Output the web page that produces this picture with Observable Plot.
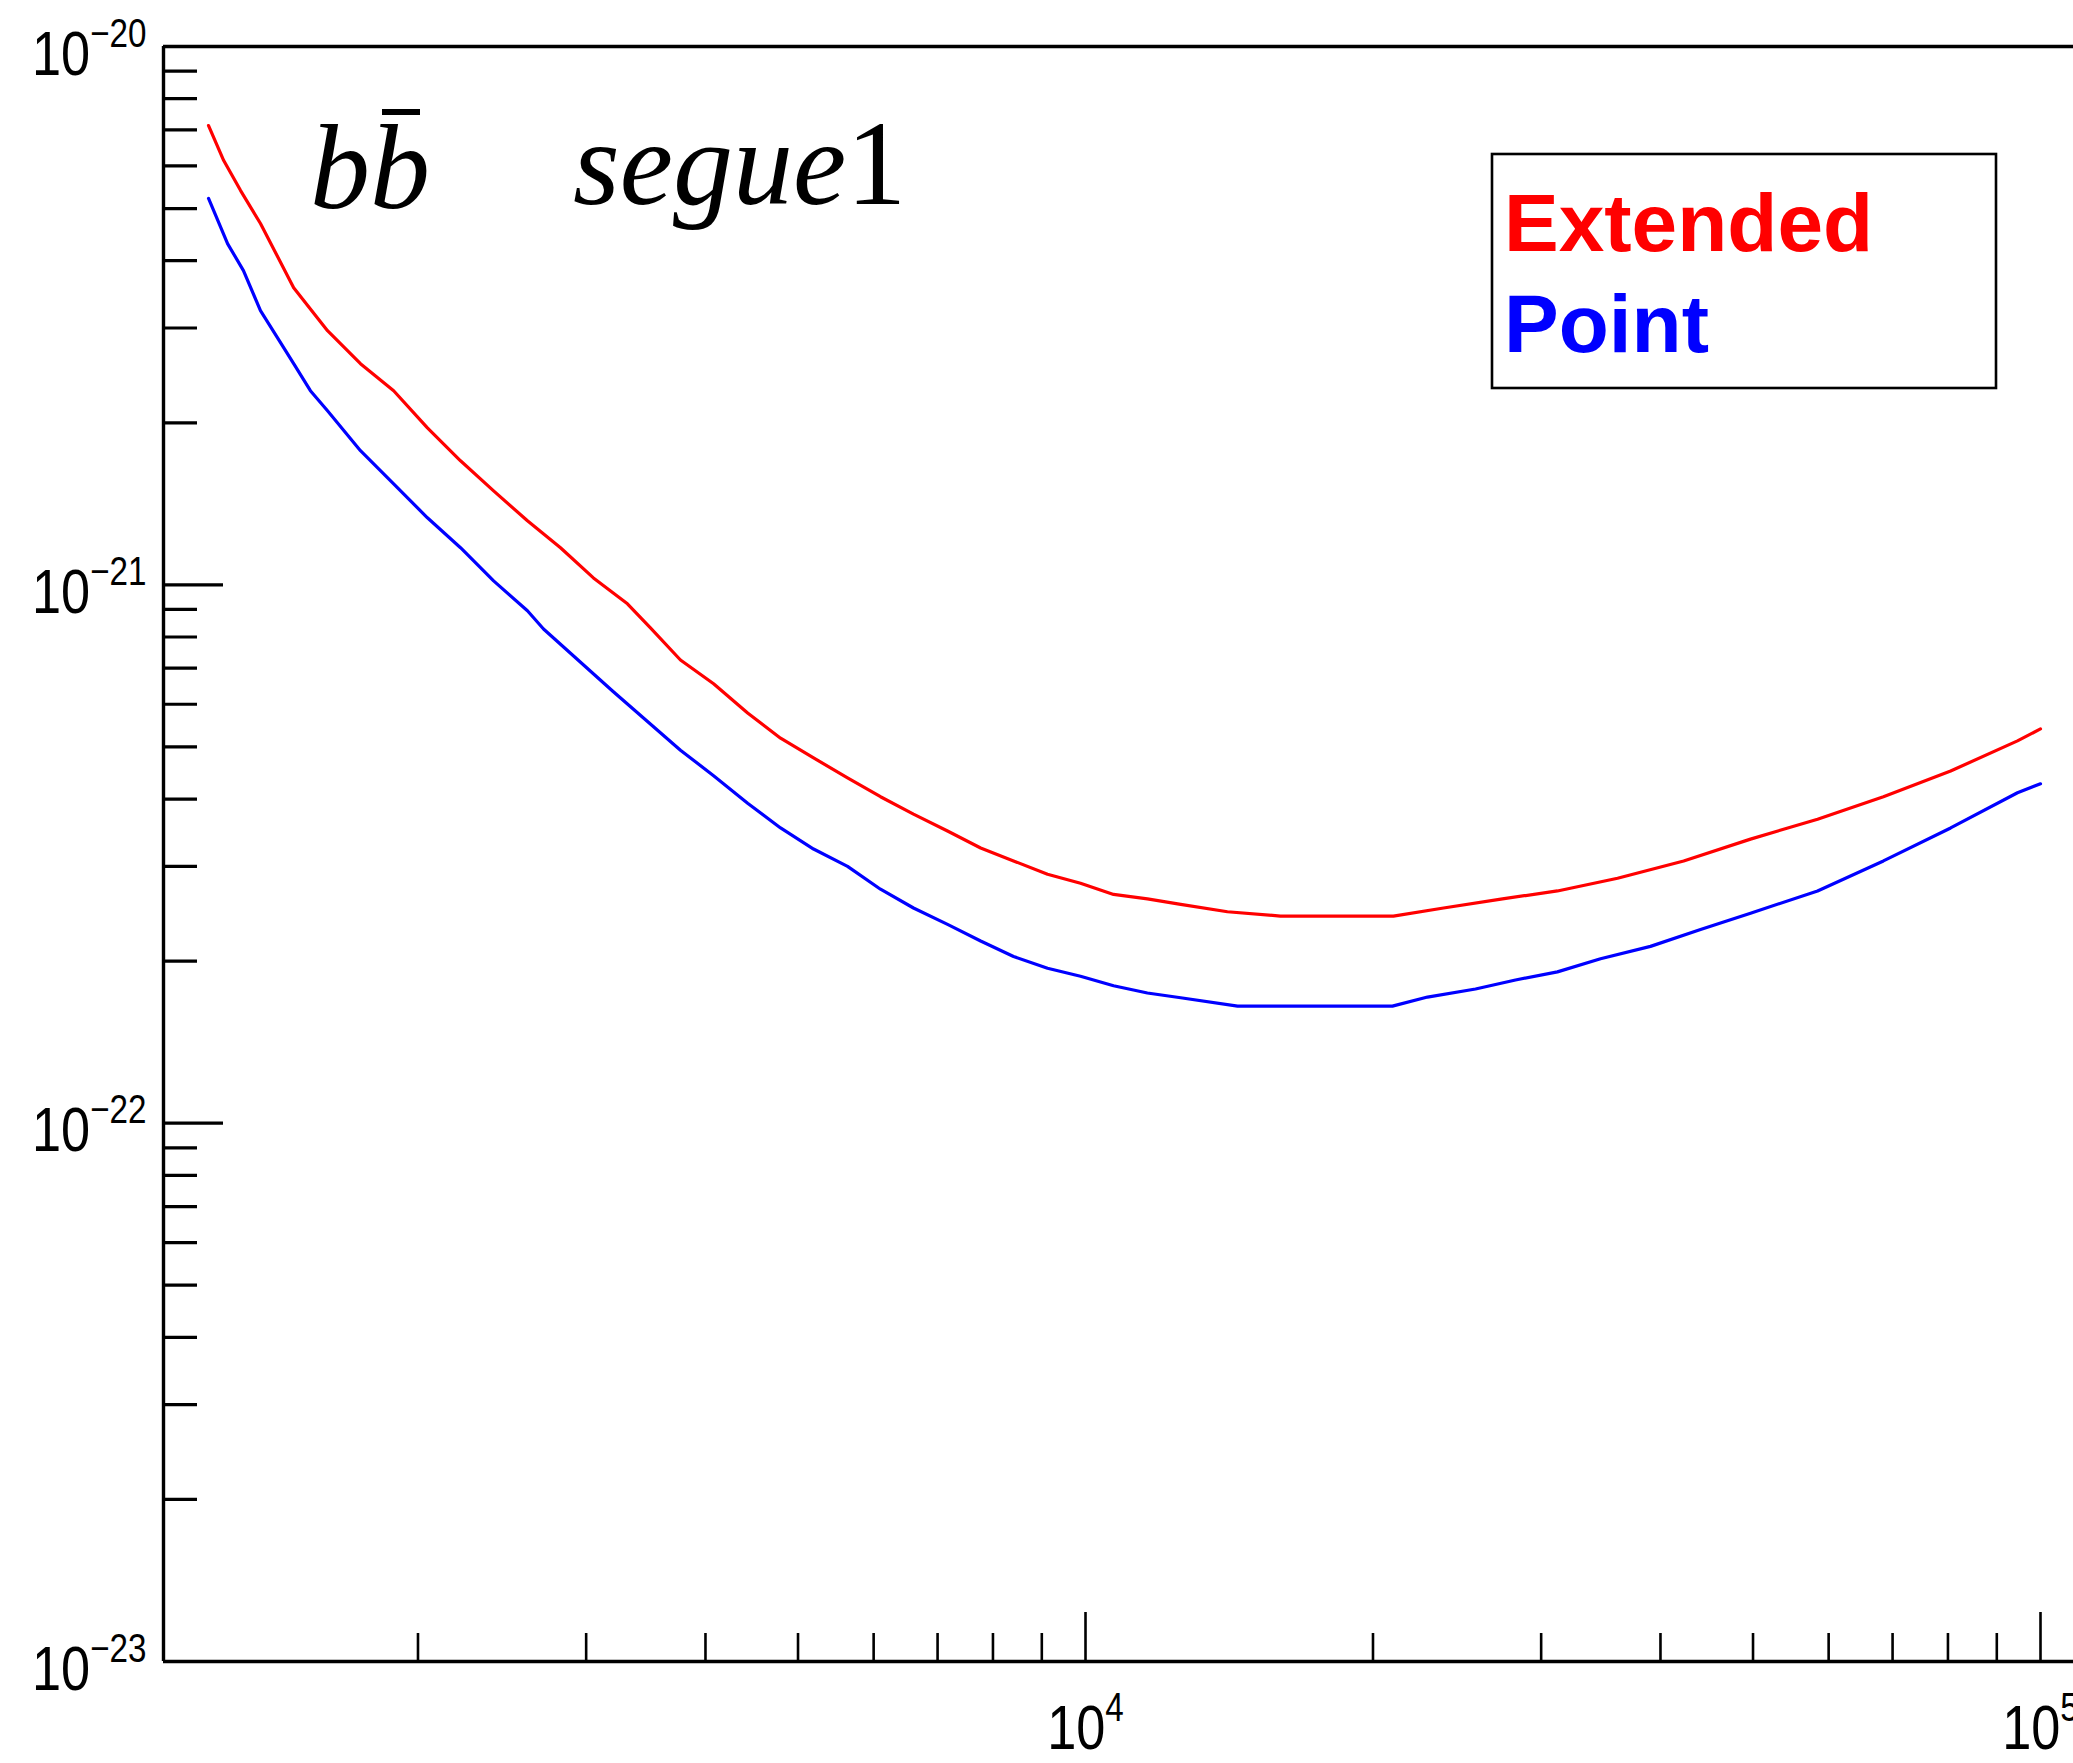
<!DOCTYPE html>
<html>
<head>
<meta charset="utf-8">
<script src="https://cdn.jsdelivr.net/npm/d3@7"></script>
<script src="https://cdn.jsdelivr.net/npm/@observablehq/plot@0.6"></script>
<style>
  html, body { margin: 0; padding: 0; background: #fff; overflow: hidden; }
  #chart svg { display: block; }
</style>
</head>
<body>
<div id="chart"></div>
<script>
// ---- data ----
const extendedE = [1207, 1252, 1304, 1368, 1482, 1608, 1741, 1886, 2046, 2216, 2400, 2604, 2820, 3053, 3314, 3503,
  3766, 4079, 4428, 4794, 5191, 5634, 6100, 6605, 7170, 7766, 8407, 9125, 9880, 10700, 11610, 12580,
  14080, 16000, 21010, 23710, 27330, 31200, 36070, 42300, 49700, 58420, 68470, 80520, 94600, 100000];
const extendedV = [7.13e-21, 6.14e-21, 5.40e-21, 4.69e-21, 3.565e-21, 2.966e-21, 2.575e-21, 2.294e-21,
  1.957e-21, 1.700e-21, 1.495e-21, 1.315e-21, 1.172e-21, 1.030e-21, 9.22e-22, 8.32e-22,
  7.25e-22, 6.55e-22, 5.78e-22, 5.19e-22, 4.77e-22, 4.38e-22, 4.04e-22, 3.75e-22,
  3.49e-22, 3.245e-22, 3.07e-22, 2.90e-22, 2.79e-22, 2.66e-22, 2.61e-22, 2.55e-22,
  2.47e-22, 2.425e-22, 2.425e-22, 2.51e-22, 2.61e-22, 2.70e-22, 2.85e-22, 3.07e-22,
  3.37e-22, 3.67e-22, 4.04e-22, 4.51e-22, 5.13e-22, 5.40e-22];

const pointE = [1207, 1264, 1313, 1368, 1425, 1482, 1543, 1608, 1741, 1886, 2046, 2216, 2400, 2604, 2707,
  3197, 3766, 4079, 4428, 4794, 5191, 5634, 6100, 6605, 7170, 7766, 8407, 9125, 9880,
  10700, 11610, 12580, 14430, 20960, 22810, 25610, 28200, 31200, 34620,
  39050, 44060, 49700, 58420, 68470, 80520, 94600, 100000];
const pointV = [5.22e-21, 4.30e-21, 3.835e-21, 3.23e-21, 2.88e-21, 2.575e-21, 2.294e-21, 2.106e-21,
  1.775e-21, 1.540e-21, 1.332e-21, 1.172e-21, 1.017e-21, 8.95e-22, 8.28e-22,
  6.35e-22, 4.93e-22, 4.42e-22, 3.93e-22, 3.535e-22, 3.23e-22, 3.00e-22, 2.72e-22, 2.51e-22, 2.34e-22, 2.18e-22, 2.04e-22, 1.94e-22, 1.875e-22,
  1.80e-22, 1.745e-22, 1.71e-22, 1.65e-22, 1.65e-22, 1.715e-22, 1.775e-22, 1.845e-22, 1.91e-22, 2.02e-22,
  2.13e-22, 2.29e-22, 2.455e-22, 2.70e-22, 3.07e-22, 3.535e-22, 4.11e-22, 4.27e-22];

const seriesNames = ["Extended", "Point"];
const seriesColors = ["#ff0000", "#0000ff"];

const xDomain = [1082.8, 108281];
const yDomain = [1e-23, 1e-20];
const xMajor = [1e4, 1e5];
const xMinor = [2000, 3000, 4000, 5000, 6000, 7000, 8000, 9000, 20000, 30000, 40000, 50000, 60000, 70000, 80000, 90000];
const yMajor = [1e-20, 1e-21, 1e-22, 1e-23];
const yMinor = [];
for (const dec of [1e-21, 1e-22, 1e-23]) for (let k = 2; k <= 9; k++) yMinor.push(k * dec);

const titleParts = ["bb", "segue", "1"];

// ---- tables ----
const extended = extendedE.map((e, i) => ({e, v: extendedV[i]}));
const point = pointE.map((e, i) => ({e, v: pointV[i]}));

const W = 2073, H = 1763, ML = 163, MR = 0, MT = 46, MB = 102;
const frameW = W - ML - MR, frameH = H - MT - MB;

const sans = "'Liberation Sans', Arial, Helvetica, sans-serif";
const serif = "'Liberation Serif', 'Times New Roman', Times, serif";
const fmt = d => `10|${Math.round(Math.log10(d))}`;

const plot = Plot.plot({
  width: W,
  height: H,
  marginLeft: ML,
  marginRight: MR,
  marginTop: MT,
  marginBottom: MB,
  style: {background: "#fff"},
  x: {type: "log", domain: xDomain, axis: null},
  y: {type: "log", domain: yDomain, axis: null},
  marks: [
    // inward ticks (left axis)
    Plot.ruleY(yMinor, {y: d => d, insetRight: frameW - 34, strokeWidth: 3.2}),
    Plot.ruleY(yMajor, {y: d => d, insetRight: frameW - 60, strokeWidth: 3.2}),
    // inward ticks (bottom axis)
    Plot.ruleX(xMinor, {x: d => d, insetTop: frameH - 28, strokeWidth: 2.6}),
    Plot.ruleX(xMajor, {x: d => d, insetTop: frameH - 49, strokeWidth: 2.6}),
    // tick labels
    Plot.text(yMajor, {y: d => d, frameAnchor: "left", text: fmt, textAnchor: "end", dx: -17,
      fontSize: 63, fontFamily: sans, fill: "#000"}),
    Plot.text(xMajor, {x: d => d, frameAnchor: "bottom", text: fmt, textAnchor: "middle",
      fontSize: 63, fontFamily: sans, fill: "#000"}),
    // frame lines (top, bottom, left)
    Plot.ruleY([yDomain[0], yDomain[1]], {strokeWidth: 3.4}),
    Plot.ruleX([xDomain[0]], {strokeWidth: 3.4}),
    // curves
    Plot.line(extended, {x: "e", y: "v", stroke: seriesColors[0], strokeWidth: 3.2}),
    Plot.line(point, {x: "e", y: "v", stroke: seriesColors[1], strokeWidth: 3.2})
  ]
});

document.getElementById("chart").appendChild(plot);
const svg = d3.select(plot.tagName.toLowerCase() === "svg" ? plot : plot.querySelector("svg"));

// ---- tick labels: power-of-ten with superscripts, condensed like the original ----
svg.selectAll("text").each(function () {
  const s = this.textContent;
  if (!s.includes("|")) return;
  const [base, exp] = s.split("|");
  const negative = exp.startsWith("-");
  const t = d3.select(this);
  t.text(null);
  t.attr("dy", null).attr("y", negative ? 28 : 88);
  t.append("tspan").text(base);
  t.append("tspan").attr("font-size", 40).attr("dy", -28).text(exp.replace("-", "\u2212"));
  const tr = t.attr("transform");
  if (tr) {
    t.attr("transform", tr + " scale(0.83,1)");
  } else {
    const x = +t.attr("x") || 0;
    t.attr("x", null).attr("transform", `translate(${x},0) scale(0.83,1)`);
  }
});

// ---- title ----
const ann = svg.append("g").attr("text-anchor", "start");
const t1 = ann.append("text")
  .attr("x", 310).attr("y", 208).attr("text-anchor", "start")
  .attr("font-family", serif).attr("font-size", 120).attr("font-style", "italic")
  .attr("fill", "#000");
t1.append("tspan").text(titleParts[0][0]);
t1.append("tspan").text(titleParts[0][1]);
ann.append("rect").attr("x", 382).attr("y", 109).attr("width", 38).attr("height", 6).attr("fill", "#000");
const t2 = ann.append("text")
  .attr("x", 573).attr("y", 204).attr("text-anchor", "start")
  .attr("font-family", serif).attr("font-size", 120).attr("fill", "#000");
t2.append("tspan").attr("font-style", "italic").text(titleParts[1]);
t2.append("tspan").attr("font-style", "normal").text(titleParts[2]);

// ---- legend ----
const leg = svg.append("g").attr("text-anchor", "start");
leg.append("rect").attr("x", 1492).attr("y", 154).attr("width", 504).attr("height", 234)
  .attr("fill", "#fff").attr("stroke", "#000").attr("stroke-width", 2.6);
seriesNames.forEach((name, i) => {
  leg.append("text")
    .attr("x", 1504).attr("y", 251 + i * 101).attr("text-anchor", "start")
    .attr("font-family", sans).attr("font-weight", "bold").attr("font-size", 82)
    .attr("fill", seriesColors[i]).text(name);
});
</script>
</body>
</html>
